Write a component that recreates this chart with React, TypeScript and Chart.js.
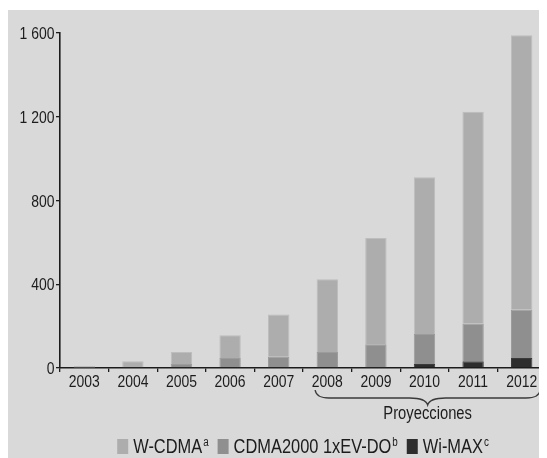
import React, { useEffect, useRef } from "react";
import { Chart, registerables } from "chart.js";

Chart.register(...registerables);

const years = ["2003", "2004", "2005", "2006", "2007", "2008", "2009", "2010", "2011", "2012"];
const wcdma = [8, 27, 57, 108, 202, 348, 508, 749, 1011, 1309];
const cdma2000 = [2, 5, 19, 48, 54, 76, 113, 143, 181, 232];
const wimax = [0, 0, 0, 0, 0, 0, 0, 19, 32, 48];
const seriesNames = ["Wi-MAX", "CDMA2000 1xEV-DO", "W-CDMA"];
const seriesNotes = ["c", "b", "a"];
const yTicks = [0, 400, 800, 1200, 1600];
const yTickLabels = ["0", "400", "800", "1 200", "1 600"];
const projectionFrom = "2008";
const projectionTo = "2012";
const projectionLabel = "Proyecciones";

const FONT = '"Liberation Sans", Arial, sans-serif';
const NARROW = 0.82;
const INK = "#1c1c1c";

function narrowText(ctx: any, text: string, x: number, y: number, size: number, align: string, baseline: string) {
  ctx.save();
  ctx.font = `${size}px ${FONT}`;
  ctx.translate(x, y);
  ctx.scale(NARROW, 1);
  ctx.textAlign = align;
  ctx.textBaseline = baseline;
  ctx.fillText(text, 0, 0);
  ctx.restore();
}

function narrowWidth(ctx: any, text: string, size: number) {
  ctx.save();
  ctx.font = `${size}px ${FONT}`;
  const w = ctx.measureText(text).width * NARROW;
  ctx.restore();
  return w;
}

const overlay = {
  id: "overlay",
  afterDraw(chart: any) {
    const ctx = chart.ctx;
    const x = chart.scales.x;
    const y = chart.scales.y;
    const ca = chart.chartArea;
    ctx.save();
    ctx.fillStyle = INK;

    // axis tick labels (narrow face)
    x.ticks.forEach((t: any, i: number) => {
      narrowText(ctx, String(x.getLabelForValue(t.value)), x.getPixelForValue(i), ca.bottom + 19, 17, "center", "alphabetic");
    });
    y.ticks.forEach((t: any) => {
      const k = yTicks.indexOf(t.value);
      if (k < 0) return;
      narrowText(ctx, yTickLabels[k], ca.left - 5.5, y.getPixelForValue(t.value) + 1.5, 17, "right", "middle");
    });

    // projection brace
    const i0 = years.indexOf(projectionFrom);
    const i1 = years.indexOf(projectionTo);
    const step = x.getPixelForValue(1) - x.getPixelForValue(0);
    const left = x.getPixelForValue(i0) - step * 0.25;
    const right = x.getPixelForValue(i1) + step * 0.38;
    const mid = (left + right) / 2;
    const top = ca.bottom + 22;
    const flat = ca.bottom + 30;
    const tip = ca.bottom + 37;
    ctx.strokeStyle = "#3a3a3a";
    ctx.lineWidth = 1.3;
    ctx.beginPath();
    ctx.moveTo(left, top);
    ctx.quadraticCurveTo(left + 1, flat, left + 14, flat);
    ctx.lineTo(mid - 18, flat);
    ctx.quadraticCurveTo(mid - 2, flat, mid, tip);
    ctx.quadraticCurveTo(mid + 2, flat, mid + 18, flat);
    ctx.lineTo(right - 14, flat);
    ctx.quadraticCurveTo(right - 1, flat, right, top);
    ctx.stroke();

    narrowText(ctx, projectionLabel, mid, ca.bottom + 51, 18, "center", "alphabetic");

    // legend
    const ds = chart.data.datasets;
    const order = [2, 1, 0];
    const mainSize = 20;
    const supSize = 12;
    const box = 11;
    const gapBox = 5;
    const gapItem = 9;
    const widths = order.map((k) => box + gapBox + narrowWidth(ctx, ds[k].label, mainSize) + 1 + narrowWidth(ctx, seriesNotes[k], supSize));
    const total = widths.reduce((a, b) => a + b, 0) + gapItem * (order.length - 1);
    let cx = (ca.left + ca.right) / 2 - total / 2;
    const base = ca.bottom + 85;
    order.forEach((k, j) => {
      ctx.fillStyle = ds[k].backgroundColor;
      ctx.fillRect(cx, base - 14, box, 15);
      let tx = cx + box + gapBox;
      ctx.fillStyle = INK;
      narrowText(ctx, ds[k].label, tx, base, mainSize, "left", "alphabetic");
      tx += narrowWidth(ctx, ds[k].label, mainSize) + 1;
      narrowText(ctx, seriesNotes[k], tx, base - 7, supSize, "left", "alphabetic");
      cx += widths[j] + gapItem;
    });
    ctx.restore();
  },
};

export default function App() {
  const ref = useRef<HTMLCanvasElement | null>(null);
  useEffect(() => {
    if (!ref.current) return;
    const chart = new Chart(ref.current, {
      type: "bar",
      data: {
        labels: years,
        datasets: [
          { label: seriesNames[0], data: wimax, backgroundColor: "#2d2d2d", borderColor: "#3a3a3a", borderWidth: 1 },
          { label: seriesNames[1], data: cdma2000, backgroundColor: "#8f8f8f", borderColor: "#9c9c9c", borderWidth: 1 },
          { label: seriesNames[2], data: wcdma, backgroundColor: "#adadad", borderColor: "#bdbdbd", borderWidth: 1 },
        ],
      },
      options: {
        animation: false,
        responsive: false,
        maintainAspectRatio: false,
        layout: { padding: { top: 23, right: 1, left: 0, bottom: 0 } },
        plugins: { legend: { display: false }, tooltip: { enabled: false } },
        datasets: { bar: { categoryPercentage: 1, barPercentage: 0.44 } },
        scales: {
          x: {
            stacked: true,
            grid: { drawOnChartArea: false, drawTicks: true, tickLength: 4, color: INK, lineWidth: 1.3, offset: true },
            border: { display: true, color: INK, width: 1.6 },
            ticks: { color: "rgba(0,0,0,0)", font: { family: FONT, size: 14 }, padding: 1, maxRotation: 0, autoSkip: false },
            afterFit: (s: any) => {
              s.height = 90;
            },
          },
          y: {
            stacked: true,
            min: 0,
            max: 1600,
            grid: { drawOnChartArea: false, drawTicks: true, tickLength: 4, color: INK, lineWidth: 1.3 },
            border: { display: true, color: INK, width: 1.6 },
            ticks: {
              color: "rgba(0,0,0,0)",
              font: { family: FONT, size: 14 },
              padding: 2,
              callback: (v: any) => {
                const i = yTicks.indexOf(Number(v));
                return i >= 0 ? yTickLabels[i] : "";
              },
            },
            afterBuildTicks: (s: any) => {
              s.ticks = yTicks.map((v) => ({ value: v }));
            },
            afterFit: (s: any) => {
              s.width = 52;
            },
          },
        },
      },
      plugins: [overlay],
    });
    return () => chart.destroy();
  }, []);
  return (
    <div style={{ paddingTop: 2 }}>
      <div style={{ width: 539, height: 448, background: "#d9d9d9" }}>
        <canvas ref={ref} width={539} height={448} style={{ display: "block", width: 539, height: 448 }} />
      </div>
    </div>
  );
}
